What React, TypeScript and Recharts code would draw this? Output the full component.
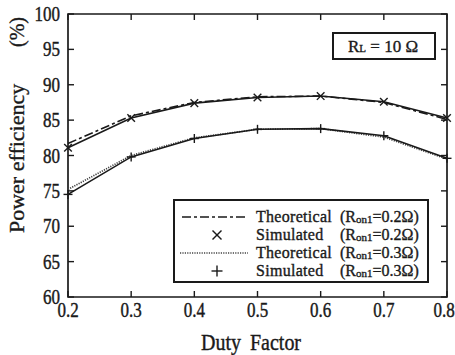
import { LineChart, Line, XAxis, YAxis, ReferenceArea } from "recharts";

const dutyFactor = [0.2, 0.3, 0.4, 0.5, 0.6, 0.7, 0.8];
const theoretical02 = [81.7, 85.6, 87.5, 88.3, 88.4, 87.5, 85.1];
const simulated02 = [81.1, 85.3, 87.4, 88.2, 88.4, 87.6, 85.3];
const theoretical03 = [75.2, 80.0, 82.5, 83.7, 83.8, 82.6, 79.5];
const simulated03 = [74.5, 79.8, 82.4, 83.7, 83.8, 82.8, 79.6];

const xTicks = [0.2, 0.3, 0.4, 0.5, 0.6, 0.7, 0.8];
const yTicks = [60, 65, 70, 75, 80, 85, 90, 95, 100];

const W = 455;
const H = 355;
// plot edges
const PL = 68;
const PR = 447;
const PT = 14;
const PB = 297;
const INK = "#1a1a1a";
const FONT = "'Liberation Serif', 'Times New Roman', serif";
// scanned type looks a little heavier than the plain font
const heavy = { stroke: INK, strokeWidth: 0.35 };

const data = dutyFactor.map((d, i) => ({
  duty: d,
  theo02: theoretical02[i],
  sim02: simulated02[i],
  theo03: theoretical03[i],
  sim03: simulated03[i],
}));

function Cross({ cx, cy, s = 3.8 }: { cx: number; cy: number; s?: number }) {
  return (
    <g stroke={INK} strokeWidth={1.4}>
      <line x1={cx - s} y1={cy - s} x2={cx + s} y2={cy + s} />
      <line x1={cx - s} y1={cy + s} x2={cx + s} y2={cy - s} />
    </g>
  );
}

function Plus({ cx, cy, s = 4.5 }: { cx: number; cy: number; s?: number }) {
  return (
    <g stroke={INK} strokeWidth={1.4}>
      <line x1={cx - s} y1={cy} x2={cx + s} y2={cy} />
      <line x1={cx} y1={cy - s} x2={cx} y2={cy + s} />
    </g>
  );
}

function YTick({ y, payload }: any) {
  return (
    <g>
      <line x1={PL} x2={PL + 6} y1={y} y2={y} stroke={INK} strokeWidth={1.4} />
      <line x1={PR - 6} x2={PR} y1={y} y2={y} stroke={INK} strokeWidth={1.4} />
      <text
        transform={`translate(${PL - 8},${y + 7}) scale(1,1.25)`}
        textAnchor="end"
        fontSize={17}
        fontFamily={FONT}
        fill={INK}
        {...heavy}
      >
        {payload.value}
      </text>
    </g>
  );
}

function XTick({ x, payload }: any) {
  const shift = payload.value === 0.8 ? -3 : 0;
  return (
    <g>
      <line x1={x} x2={x} y1={PB - 6} y2={PB} stroke={INK} strokeWidth={1.4} />
      <line x1={x} x2={x} y1={PT} y2={PT + 6} stroke={INK} strokeWidth={1.4} />
      <text
        transform={`translate(${x + shift},317) scale(1,1.25)`}
        textAnchor="middle"
        fontSize={17}
        fontFamily={FONT}
        fill={INK}
        {...heavy}
      >
        {payload.value.toFixed(1)}
      </text>
    </g>
  );
}

function RonLabel({ x, y, v }: { x: number; y: number; v: string }) {
  return (
    <text x={x} y={y} fontSize={16} fontFamily={FONT} fill={INK} {...heavy}>
      (R
      <tspan fontSize={11} dy={1}>on1</tspan>
      <tspan dy={-1}>={v}Ω)</tspan>
    </text>
  );
}

function Overlay() {
  const rows = [217, 235, 253, 271];
  return (
    <svg
      width={W}
      height={H}
      style={{ position: "absolute", left: 0, top: 0, pointerEvents: "none" }}
    >
      {/* axis titles */}
      <text
        transform="translate(24,233) rotate(-90) scale(1.1,1)"
        fontSize={20}
        fontFamily={FONT}
        fill={INK}
        {...heavy}
      >
        Power efficiency
      </text>
      <text
        transform="translate(24,47) rotate(-90)"
        fontSize={20}
        fontFamily={FONT}
        fill={INK}
        {...heavy}
      >
        (%)
      </text>
      <text
        transform="translate(251,350) scale(1,1.15)"
        textAnchor="middle"
        fontSize={20}
        wordSpacing={4}
        fontFamily={FONT}
        fill={INK}
        {...heavy}
      >
        Duty Factor
      </text>

      {/* RL box */}
      <rect x={333} y={33} width={102} height={26} fill="#fff" stroke={INK} strokeWidth={2} />
      <text x={348} y={52} fontSize={17} fontFamily={FONT} fill={INK} {...heavy}>
        R<tspan fontSize={11}>L</tspan> = 10 Ω
      </text>

      {/* legend */}
      <rect x={174} y={200} width={254} height={82} fill="#fff" stroke={INK} strokeWidth={2} />
      <line x1={182} x2={248} y1={rows[0]} y2={rows[0]} stroke={INK} strokeWidth={1.7} strokeDasharray="9 3 3 3" />
      <Cross cx={217} cy={rows[1]} s={4.5} />
      <line x1={180} x2={248} y1={rows[2]} y2={rows[2]} stroke="#444" strokeWidth={1.7} strokeDasharray="1.2 1.2" />
      <Plus cx={217} cy={rows[3]} s={5.5} />
      {["Theoretical", "Simulated", "Theoretical", "Simulated"].map((t, i) => (
        <text
          key={i}
          transform={`translate(256,${rows[i] + 5}) scale(1,1.08)`}
          fontSize={16}
          letterSpacing={0.3}
          fontFamily={FONT}
          fill={INK}
          {...heavy}
        >
          {t}
        </text>
      ))}
      {["0.2", "0.2", "0.3", "0.3"].map((v, i) => (
        <RonLabel key={i} x={340} y={rows[i] + 5} v={v} />
      ))}
    </svg>
  );
}

export default function App() {
  return (
    <div style={{ position: "absolute", left: 0, top: 0, width: W, height: H, background: "#fff" }}>
      <LineChart
        width={W}
        height={H}
        data={data}
        margin={{ top: PT, right: W - PR, left: 0, bottom: 0 }}
      >
        <XAxis
          dataKey="duty"
          type="number"
          domain={[0.2, 0.8]}
          ticks={xTicks}
          height={H - PB}
          axisLine={false}
          tickLine={false}
          tick={<XTick />}
          interval={0}
        />
        <YAxis
          type="number"
          domain={[60, 100]}
          ticks={yTicks}
          width={PL}
          axisLine={false}
          tickLine={false}
          tick={<YTick />}
          interval={0}
        />
        <ReferenceArea x1={0.2} x2={0.8} y1={60} y2={100} fill="none" stroke={INK} strokeWidth={1.7} />
        <Line
          dataKey="theo02"
          stroke={INK}
          strokeWidth={1.6}
          strokeDasharray="9 3 3 3"
          dot={false}
          isAnimationActive={false}
        />
        <Line
          dataKey="sim02"
          stroke={INK}
          strokeWidth={1.6}
          dot={(p: any) => <Cross key={p.index} cx={p.cx} cy={p.cy} />}
          isAnimationActive={false}
        />
        <Line
          dataKey="theo03"
          stroke="#444"
          strokeWidth={1.7}
          strokeDasharray="1.2 1.2"
          dot={false}
          isAnimationActive={false}
        />
        <Line
          dataKey="sim03"
          stroke={INK}
          strokeWidth={1.6}
          dot={(p: any) => <Plus key={p.index} cx={p.cx} cy={p.cy} />}
          isAnimationActive={false}
        />
      </LineChart>
      <Overlay />
    </div>
  );
}
